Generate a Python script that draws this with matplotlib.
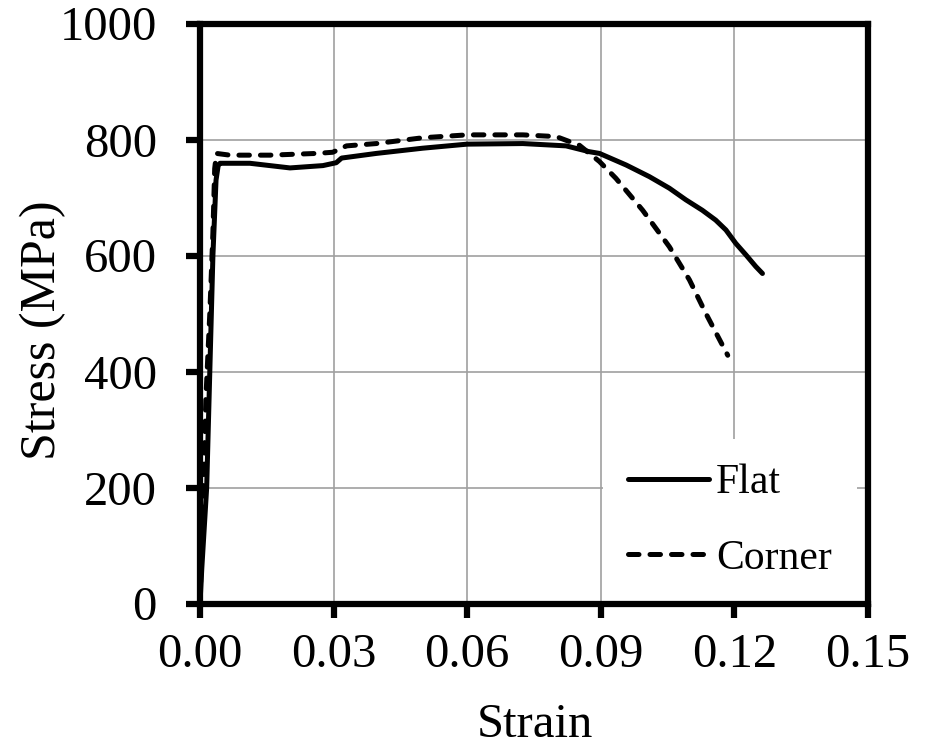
import matplotlib
matplotlib.use("Agg")
import matplotlib.pyplot as plt

flat_strain = [0.0, 0.0004, 0.0015, 0.0022, 0.0029, 0.0036, 0.0041, 0.0045, 0.0112, 0.0202,
               0.0276, 0.0306, 0.0318, 0.0396, 0.050, 0.060, 0.0725, 0.0822, 0.0874, 0.0897,
               0.0957, 0.1009, 0.1054, 0.1091, 0.1128, 0.1158, 0.1181, 0.1203, 0.1226, 0.1248,
               0.1263]
flat_stress = [0, 60, 200, 400, 600, 730, 756, 759, 759, 751,
               755, 760, 768, 776, 785, 792, 793, 789, 779, 776,
               756, 736, 716, 696, 678, 661, 644, 621, 601, 581,
               569]

corner_strain = [0.0, 0.0008, 0.0013, 0.0022, 0.0029, 0.0033, 0.0037, 0.0067, 0.0157, 0.0262,
                 0.0298, 0.0329, 0.0396, 0.050, 0.060, 0.0725, 0.080, 0.0852, 0.0897, 0.0934,
                 0.0994, 0.1054, 0.1099, 0.1136, 0.1185]
corner_stress = [0, 200, 350, 500, 640, 750, 776, 773, 773, 776,
                 778, 789, 793, 803, 808, 808, 805, 790, 762, 733,
                 678, 615, 558, 500, 428]

x_ticks = [0.00, 0.03, 0.06, 0.09, 0.12, 0.15]
x_labels = ["0.00", "0.03", "0.06", "0.09", "0.12", "0.15"]
y_ticks = [0, 200, 400, 600, 800, 1000]

plt.rcParams['font.family'] = ['Liberation Serif', 'DejaVu Serif']

fig = plt.figure(figsize=(9.29, 7.47), dpi=100)
ax = fig.add_axes([200/929, 1-603.5/747, 668/929, 580/747])

ax.plot(flat_strain, flat_stress, color='black', lw=3.6, solid_capstyle='round',
        solid_joinstyle='round', label='Flat', zorder=3)
ax.plot(corner_strain, corner_stress, color='black', lw=3.6, linestyle=(0, (2.1, 2.2)),
        dash_capstyle='round', dash_joinstyle='round', label='Corner', zorder=3)

ax.set_xlim(0, 0.15)
ax.set_ylim(0, 1000)
ax.set_xticks(x_ticks)
ax.set_xticklabels(x_labels)
ax.set_yticks(y_ticks)
ax.grid(True, color='#a0a0a0', lw=1.2, zorder=0)
ax.set_axisbelow(True)

for s in ax.spines.values():
    s.set_linewidth(4.5)
    s.set_zorder(5)

ax.tick_params(axis='both', direction='out', length=10, width=4.5, labelsize=35)
ax.tick_params(axis='x', pad=11)
ax.tick_params(axis='y', pad=21)

ax.set_xlabel('Strain', fontsize=35)
ax.xaxis.set_label_coords(0.502, -0.2302)
ax.xaxis.label.set_va('baseline')
ax.set_ylabel('Stress (MPa)', fontsize=36)
ax.yaxis.set_label_coords(-0.200, 0.472)

leg = ax.legend(loc='upper left', bbox_to_anchor=(0.603, 0.2837), borderaxespad=0,
                fontsize=30, frameon=True, fancybox=False, framealpha=1,
                edgecolor='none', facecolor='white', handlelength=1.95,
                handletextpad=0.17, labelspacing=0.89, borderpad=0.6)
leg.set_zorder(4)

fig.savefig('out.png', dpi=100)
